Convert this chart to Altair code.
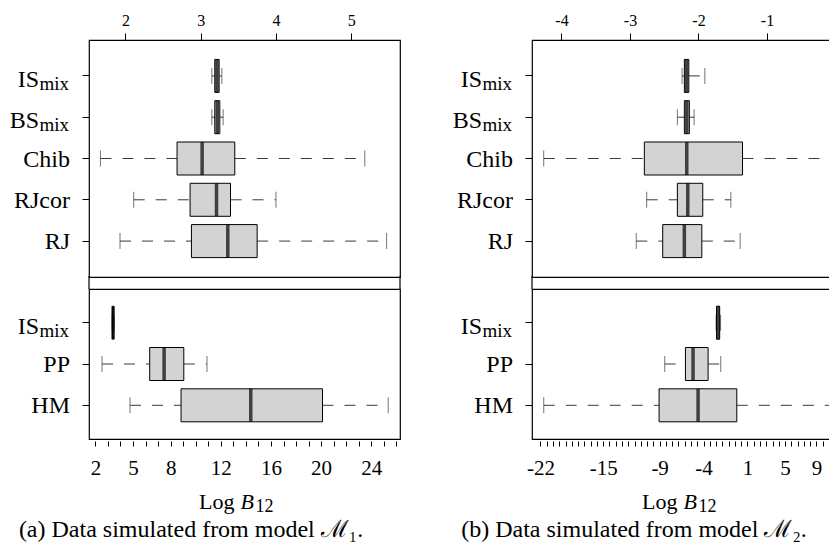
import altair as alt
import pandas as pd

FONT = "Liberation Serif"
BOX_FILL = "#d3d3d3"
WHISK = "#3a3a3a"

# ---------- (a) data simulated from model M1 ----------
a_top_methods = ["IS_mix", "BS_mix", "Chib", "RJcor", "RJ"]
a_top_lo = [3.148, 3.148, 1.668, 2.110, 1.928]
a_top_q1 = [3.187, 3.187, 2.686, 2.859, 2.877]
a_top_med = [3.216, 3.220, 3.019, 3.210, 3.360]
a_top_q3 = [3.245, 3.254, 3.453, 3.396, 3.750]
a_top_hi = [3.281, 3.298, 5.180, 4.000, 5.470]
a_top_domain = [1.516, 5.648]
a_top_ticks = [2, 3, 4, 5]
a_top_tick_labels = ["2", "3", "4", "5"]

a_bot_methods = ["IS_mix", "PP", "HM"]
a_bot_lo = [3.33, 2.53, 4.76]
a_bot_q1 = [3.36, 6.33, 8.83]
a_bot_med = [3.41, 7.48, 14.39]
a_bot_q3 = [3.46, 9.05, 20.11]
a_bot_hi = [3.50, 10.90, 25.35]
a_bot_domain = [1.49, 26.29]
a_bot_ticks = list(range(2, 27))
a_bot_label_values = [2, 5, 8, 12, 16, 20, 24]
a_bot_tick_labels = ["2", "5", "8", "12", "16", "20", "24"]

# ---------- (b) data simulated from model M2 ----------
b_top_methods = ["IS_mix", "BS_mix", "Chib", "RJcor", "RJ"]
b_top_lo = [-2.239, -2.308, -4.259, -2.756, -2.908]
b_top_q1 = [-2.206, -2.206, -2.790, -2.308, -2.522]
b_top_med = [-2.175, -2.170, -2.171, -2.156, -2.206]
b_top_q3 = [-2.141, -2.133, -1.357, -1.937, -1.951]
b_top_hi = [-1.907, -2.064, -0.059, -1.527, -1.391]
b_top_domain = [-4.43, 0.11]
b_top_ticks = [-4, -3, -2, -1, 0]
b_top_tick_labels = ["-4", "-3", "-2", "-1", "0"]

b_bot_methods = ["IS_mix", "PP", "HM"]
b_bot_lo = [-2.40, -8.13, -21.63]
b_bot_q1 = [-2.35, -5.82, -8.76]
b_bot_med = [-2.20, -4.97, -4.41]
b_bot_q3 = [-2.00, -3.29, -0.09]
b_bot_hi = [-1.90, -1.88, 10.48]
b_bot_domain = [-22.94, 11.76]
b_bot_ticks = [round(-22 + 0.7 * k, 1) for k in range(46)]
b_bot_label_values = [-22, -15, -8.7, -3.8, 1.1, 5.3, 8.8]
b_bot_tick_labels = ["-22", "-15", "-9", "-4", "1", "5", "9"]

label_base = {"IS_mix": "IS", "BS_mix": "BS", "Chib": "Chib", "RJcor": "RJcor",
              "RJ": "RJ", "PP": "PP", "HM": "HM"}
label_sub = {"IS_mix": "mix", "BS_mix": "mix"}

title_parts = ["Log", "B", "12"]
captions = ["(a) Data simulated from model ℳ₁.", "(b) Data simulated from model ℳ₂."]

W = 311
H_TOP = 237
H_BOT = 150


def lab_expr(vals, texts):
    e = "''"
    for v, t in reversed(list(zip(vals, texts))):
        e = f"abs(datum.value - ({v})) < 1e-6 ? '{t}' : ({e})"
    return e


def panel(methods, lo, q1, med, q3, hi, domain, ticks, label_vals, label_txt,
          top, height, pad_outer, caption=None):
    df = pd.DataFrame(dict(method=methods, lo=lo, q1=q1, med=med, q3=q3, hi=hi,
                           base=[label_base[m] for m in methods],
                           sub=[label_sub.get(m, "") for m in methods]))
    common = dict(values=ticks, labelExpr=lab_expr(label_vals, label_txt), title=None,
                  domain=False, grid=False, labelFont=FONT, labelColor="black",
                  tickColor="black", tickWidth=1, labelFlush=False, labelOverlap=False)
    if top:
        xaxis = alt.Axis(orient="top", tickSize=7, labelFontSize=16, labelPadding=5, **common)
    else:
        xaxis = alt.Axis(orient="bottom", offset=2, tickSize=5, labelFontSize=21,
                         labelPadding=11, **common)
    xs = alt.Scale(domain=domain, nice=False, zero=False)
    ys = alt.Scale(domain=methods, paddingInner=0, paddingOuter=pad_outer)
    yaxis = alt.Axis(labels=False, title=None, domain=False, grid=False, tickSize=7,
                     tickColor="black", tickWidth=1)
    Y = alt.Y("method:N", scale=ys, axis=yaxis, sort=methods)

    def X(f):
        return alt.X(f"{f}:Q", scale=xs, axis=xaxis)

    base = alt.Chart(df)
    layers = [
        base.mark_rule(color=WHISK, strokeWidth=1, strokeDash=[11, 11]).encode(
            x=X("lo"), x2="q1:Q", y=Y),
        base.mark_rule(color=WHISK, strokeWidth=1, strokeDash=[11, 11]).encode(
            x=X("q3"), x2="hi:Q", y=Y),
        base.mark_tick(color=WHISK, size=16, thickness=1).encode(x=X("lo"), y=Y),
        base.mark_tick(color=WHISK, size=16, thickness=1).encode(x=X("hi"), y=Y),
        base.mark_bar(size=33, fill=BOX_FILL, stroke="black", strokeWidth=1).encode(
            x=X("q1"), x2="q3:Q", y=Y),
        base.mark_tick(size=33, thickness=3.5, color="black").encode(x=X("med"), y=Y),
        base.transform_filter("datum.sub == ''").mark_text(
            align="right", baseline="alphabetic", font=FONT, fontSize=24, dy=8,
            color="black").encode(x=alt.value(-19), y=Y, text="base:N"),
        base.transform_filter("datum.sub != ''").mark_text(
            align="right", baseline="alphabetic", font=FONT, fontSize=24, dy=11,
            color="black").encode(x=alt.value(-50), y=Y, text="base:N"),
        base.transform_filter("datum.sub != ''").mark_text(
            align="right", baseline="alphabetic", font=FONT, fontSize=19, dy=14,
            color="black").encode(x=alt.value(-20), y=Y, text="sub:N"),
    ]
    if caption is not None:
        one = pd.DataFrame({"k": [0]})
        layers += [
            alt.Chart(one).mark_rule(color="black", strokeWidth=1.2).encode(
                x=alt.value(0), y=alt.value(-13), y2=alt.value(0)),
            alt.Chart(one).mark_rule(color="black", strokeWidth=1.2).encode(
                x=alt.value(W), y=alt.value(-13), y2=alt.value(0)),
            alt.Chart(pd.DataFrame({"t": [title_parts[0]]})).mark_text(
                align="right", baseline="alphabetic", font=FONT, fontSize=22,
                color="black").encode(x=alt.value(W / 2 - 10), y=alt.value(height + 70),
                                      text="t:N"),
            alt.Chart(pd.DataFrame({"t": [title_parts[1]]})).mark_text(
                align="left", baseline="alphabetic", font=FONT, fontSize=22,
                fontStyle="italic", color="black").encode(
                x=alt.value(W / 2 - 4), y=alt.value(height + 70), text="t:N"),
            alt.Chart(pd.DataFrame({"t": [title_parts[2]]})).mark_text(
                align="left", baseline="alphabetic", font=FONT, fontSize=18,
                color="black").encode(x=alt.value(W / 2 + 11), y=alt.value(height + 73),
                                      text="t:N"),
            alt.Chart(pd.DataFrame({"t": [caption]})).mark_text(
                align="center", baseline="alphabetic", font=FONT, fontSize=24,
                color="black").encode(x=alt.value(102), y=alt.value(height + 98),
                                      text="t:N"),
        ]
    return alt.layer(*layers).properties(width=W, height=height)


a_top = panel(a_top_methods, a_top_lo, a_top_q1, a_top_med, a_top_q3, a_top_hi,
              a_top_domain, a_top_ticks, a_top_ticks, a_top_tick_labels,
              True, H_TOP, 0.37)
b_top = panel(b_top_methods, b_top_lo, b_top_q1, b_top_med, b_top_q3, b_top_hi,
              b_top_domain, b_top_ticks, b_top_ticks, b_top_tick_labels,
              True, H_TOP, 0.37)
a_bot = panel(a_bot_methods, a_bot_lo, a_bot_q1, a_bot_med, a_bot_q3, a_bot_hi,
              a_bot_domain, a_bot_ticks, a_bot_label_values, a_bot_tick_labels,
              False, H_BOT, 0.316, caption=captions[0])
b_bot = panel(b_bot_methods, b_bot_lo, b_bot_q1, b_bot_med, b_bot_q3, b_bot_hi,
              b_bot_domain, b_bot_ticks, b_bot_label_values, b_bot_tick_labels,
              False, H_BOT, 0.316, caption=captions[1])

chart = alt.concat(
    a_top, b_top, a_bot, b_bot, columns=2,
    spacing={"row": 12, "column": 132}, bounds="flush", align="each",
).properties(
    padding={"left": 1, "top": 3, "right": -16, "bottom": 0},
    background="white",
).configure_view(stroke="black", strokeWidth=1.2)

chart.save("out.html", embed_options={"renderer": "svg", "actions": False})
